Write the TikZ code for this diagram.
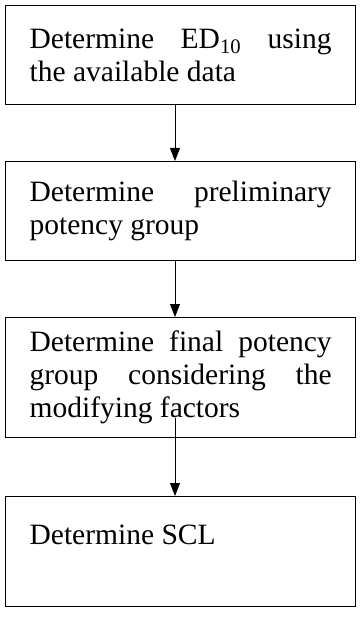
\documentclass[tikz,border=0pt]{standalone}
\usepackage{fontspec}
\setmainfont{Liberation Serif}
\usetikzlibrary{arrows.meta}
\begin{document}
\begin{tikzpicture}[x=1pt,y=1pt,
  stepbox/.style={draw, line width=1.3pt, rectangle, anchor=north west,
    inner xsep=24pt, inner ysep=0pt, text width=302pt, align=justify,
    font=\fontsize{29.5}{33}\selectfont, minimum height=#1},
  flow/.style={line width=0.9pt, -{Triangle[width=10pt,length=13pt]}}]
  \useasboundingbox (0,0) rectangle (360,-631);

  % the four steps
  \node[stepbox=99pt]  (b1) at (5,-5)   {Determine ED\textsubscript{10} using\linebreak the available data};
  \node[stepbox=99pt]  (b2) at (5,-161) {Determine preliminary\linebreak potency group};
  \node[stepbox=120pt] (b3) at (5,-317) {Determine final potency\linebreak group considering the\linebreak modifying factors};
  \node[stepbox=110pt] (b4) at (5,-496) {Determine SCL\\\mbox{}};

  % connectors run down a common vertical
  \coordinate (ax) at (175,0);
  \coordinate (a3) at (175,-418);
  \draw[flow] (b1.south -| ax) -- (b2.north -| ax);
  \draw[flow] (b2.south -| ax) -- (b3.north -| ax);
  \draw[flow] (a3) -- (b4.north -| a3);
\end{tikzpicture}
\end{document}
